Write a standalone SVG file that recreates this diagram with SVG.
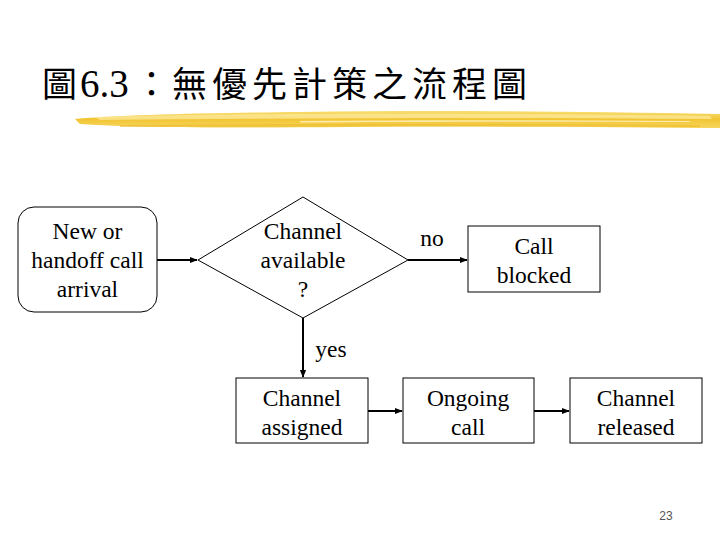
<svg xmlns="http://www.w3.org/2000/svg" width="720" height="540" viewBox="0 0 720 540">
<style>
.t{font-family:"Liberation Serif","Times New Roman","Noto Sans CJK TC",serif;font-size:23.5px;fill:#000;text-anchor:middle}
.box{fill:#fff;stroke:#000;stroke-width:1}
.ln{stroke:#000;stroke-width:2;fill:none}
.title{font-family:"Liberation Serif","Noto Sans CJK TC",serif;font-size:35px;fill:#000}
</style>
<defs>
<marker id="ah" viewBox="0 0 10 10" refX="9" refY="5" markerWidth="4" markerHeight="4" orient="auto" markerUnits="strokeWidth">
<path d="M0,1 L10,5 L0,9 z" fill="#000"/>
</marker>
<linearGradient id="brush" x1="0" y1="0" x2="0" y2="1">
<stop offset="0" stop-color="#F8DE72"/>
<stop offset="0.5" stop-color="#F2C535"/>
<stop offset="1" stop-color="#F7D660"/>
</linearGradient>
</defs>
<rect width="720" height="540" fill="#fff"/>
<g id="title">
<text class="title" x="42" y="97">圖</text>
<text class="title" x="80" y="97" style="font-size:39px">6.3</text>
<text class="title" x="134" y="97">：</text>
<text class="title" x="172" y="97" letter-spacing="5">無優先計策之流程圖</text>
<path d="M75,119 C120,115 200,113 300,112 C420,110 560,111 720,114 L720,128 C600,127 470,126 350,127 C230,128 140,128 80,124 Z" fill="url(#brush)"/>
<path d="M95,117 C200,114 420,112 710,116 L712,119 C500,117 300,118 100,120 Z" fill="#FCEBA0" opacity="0.7"/>
<path d="M120,125 C260,124 480,123 700,125 L700,127 C480,126 260,127 120,127 Z" fill="#EBBB2A" opacity="0.6"/>
<path d="M300,121 C420,120 560,120 690,121 L690,122 C560,121.5 420,121.5 300,122.5 Z" fill="#FFF3C0" opacity="0.8"/>
</g>
<g id="connectors">
<line class="ln" x1="157" y1="260" x2="197" y2="260" marker-end="url(#ah)"/>
<line class="ln" x1="408" y1="260" x2="467" y2="260" marker-end="url(#ah)"/>
<line class="ln" x1="303" y1="318" x2="303" y2="377" marker-end="url(#ah)"/>
<line class="ln" x1="368" y1="411" x2="402" y2="411" marker-end="url(#ah)"/>
<line class="ln" x1="534" y1="411" x2="569" y2="411" marker-end="url(#ah)"/>
<text class="t" x="432" y="246">no</text>
<text class="t" x="331" y="357">yes</text>
</g>
<g id="arrival">
<rect class="box" x="18" y="207" width="139" height="105" rx="16"/>
<text class="t" x="87.5" y="239">New or</text>
<text class="t" x="87.5" y="268">handoff call</text>
<text class="t" x="87.5" y="297">arrival</text>
</g>
<g id="decision">
<polygon class="box" points="303,197 408,260 303,318 198,260"/>
<text class="t" x="303" y="239">Channel</text>
<text class="t" x="303" y="268">available</text>
<text class="t" x="303" y="297">?</text>
</g>
<g id="blocked">
<rect class="box" x="468" y="226" width="132" height="66"/>
<text class="t" x="534" y="254">Call</text>
<text class="t" x="534" y="283">blocked</text>
</g>
<g id="assigned">
<rect class="box" x="236" y="378" width="132" height="65"/>
<text class="t" x="302" y="406">Channel</text>
<text class="t" x="302" y="435">assigned</text>
</g>
<g id="ongoing">
<rect class="box" x="403" y="378" width="131" height="65"/>
<text class="t" x="468" y="406">Ongoing</text>
<text class="t" x="468" y="435">call</text>
</g>
<g id="released">
<rect class="box" x="570" y="378" width="132" height="65"/>
<text class="t" x="636" y="406">Channel</text>
<text class="t" x="636" y="435">released</text>
</g>
<text x="666" y="520" font-family="Liberation Sans,Arial,sans-serif" font-size="12" fill="#555" text-anchor="middle">23</text>
</svg>
